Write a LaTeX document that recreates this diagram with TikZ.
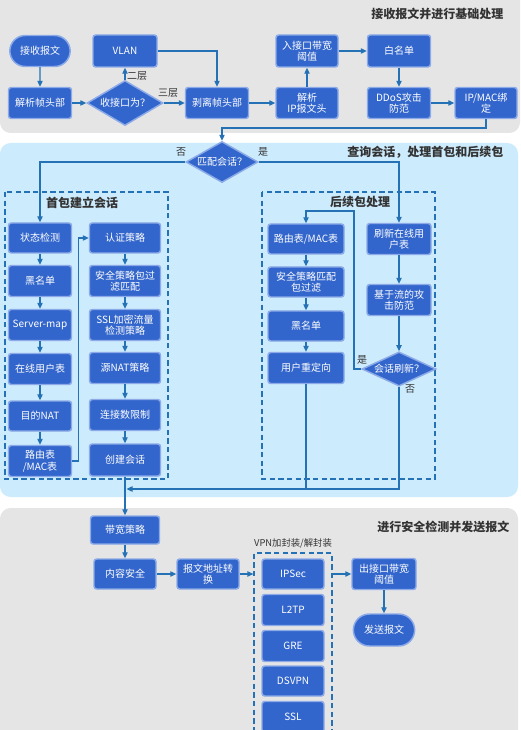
\documentclass[tikz,border=0pt]{standalone}
\usepackage{fontspec}
\setmainfont{Noto Sans CJK SC}
\usetikzlibrary{arrows.meta,shapes.geometric,shapes.misc}
\definecolor{boxfill}{RGB}{51,102,204}
\definecolor{boxedge}{RGB}{140,170,232}
\definecolor{lnc}{RGB}{36,113,181}
\definecolor{grayp}{RGB}{229,229,229}
\definecolor{bluep}{RGB}{204,235,252}
\definecolor{lbl}{RGB}{51,51,51}
\begin{document}
\begin{tikzpicture}[x=0.75pt,y=-0.75pt,
  sz/.style 2 args={minimum width=#1*0.75pt, minimum height=#2*0.75pt},
  bx/.style={rectangle, rounded corners=2pt, fill=boxfill, draw=boxedge, line width=1.1pt, text=white, font=\fontsize{7.5}{8.6}\selectfont, align=center, inner sep=1pt},
  term/.style={rounded rectangle, fill=boxfill, draw=boxedge, line width=1.1pt, text=white, font=\fontsize{7.5}{8.6}\selectfont, align=center, inner sep=1pt},
  dia/.style={diamond, fill=boxfill, draw=boxedge, line width=1.1pt, text=white, font=\fontsize{7.5}{8.6}\selectfont, inner sep=0pt, aspect=2},
  ln/.style={draw=lnc, line width=0.9pt},
  arr/.style={draw=lnc, line width=0.9pt, -{Triangle[length=4.5pt,width=4pt]}},
  dbox/.style={draw=lnc, line width=0.9pt, dash pattern=on 4pt off 2.5pt},
  ttl/.style={font=\fontsize{9}{10}\selectfont\bfseries, text=lbl},
  lab/.style={font=\fontsize{7.5}{9}\selectfont, text=lbl},
]
\useasboundingbox (0,0) rectangle (520,730);
% panels
\fill[grayp, rounded corners=8pt] (0,-20) rectangle (520,133);
\fill[bluep, rounded corners=8pt] (0,143) rectangle (518,497);
\fill[grayp, rounded corners=8pt] (0,508) rectangle (518,750);

% titles
\node[ttl, anchor=east] (t1) at (508,14) {接收报文并进行基础处理};
\node[ttl, anchor=east] (t2) at (508,152) {查询会话，处理首包和后续包};
\node[ttl, anchor=east] (t3) at (514,527) {进行安全检测并发送报文};

% top section
\node[term, sz={63}{31}] (rcv) at (40,51) {接收报文};
\node[bx, sz={63}{31}] (parse) at (40,103) {解析帧头部};
\node[dia, sz={76}{45}] (ifd) at (125,103) {收接口为？};
\node[bx, sz={64}{32}] (vlan) at (125,51) {VLAN};
\node[bx, sz={63}{31}] (strip) at (217,103) {剥离帧头部};
\node[bx, sz={62}{31}] (ipp) at (307,103) {解析\\IP报文头};
\node[bx, sz={62}{32}] (inbw) at (307,51) {入接口带宽\\阈值};
\node[bx, sz={63}{32}] (white) at (399,51) {白名单};
\node[bx, sz={63}{31}] (ddos) at (399,103) {DDoS攻击\\防范};
\node[bx, sz={62}{31}] (ipmac) at (486,103) {IP/MAC绑\\定};
\node[lab] (l2) at (137,76) {二层};
\node[lab] (l3) at (168,93) {三层};

\draw[arr] (rcv) -- (parse);
\draw[arr] (parse) -- (ifd);
\draw[arr] (ifd) -- (vlan);
\draw[arr] (ifd) -- (strip);
\draw[arr] (vlan.east) -| (strip.north);
\draw[arr] (strip) -- (ipp);
\draw[arr] (ipp) -- (inbw);
\draw[arr] (inbw) -- (white);
\draw[arr] (white) -- (ddos);
\draw[arr] (ddos) -- (ipmac);

% middle section
\node[dia, sz={72}{41}] (match) at (222,162) {匹配会话？};
\coordinate (k1) at (222,128);
\draw[arr] (ipmac.south) |- (k1) -- (match.north);
\node[lab] (no1) at (181,152) {否};
\node[lab] (yes1) at (263,152) {是};

\draw[dbox] (5,192) rectangle (168,479);
\draw[dbox] (262,192) rectangle (435,479);
\node[ttl] (fpt) at (82,203) {首包建立会话};
\node[ttl] (spt) at (360,202) {后续包处理};

\node[bx, sz={63}{30}] (st1) at (40,238) {状态检测};
\node[bx, sz={63}{31}] (bl1) at (40,281) {黑名单};
\node[bx, sz={63}{31}] (sm) at (40,325) {Server-map};
\node[bx, sz={63}{31}] (ou) at (40,369) {在线用户表};
\node[bx, sz={63}{30}] (dnat) at (40,416) {目的NAT};
\node[bx, sz={63}{31}] (rt1) at (40,461) {路由表\\/MAC表};

\node[bx, sz={71}{30}] (auth) at (125,238) {认证策略};
\node[bx, sz={71}{31}] (spf) at (125,281) {安全策略包过\\滤匹配};
\node[bx, sz={71}{31}] (ssl) at (125,325) {SSL加密流量\\检测策略};
\node[bx, sz={71}{31}] (snat) at (125,368) {源NAT策略};
\node[bx, sz={71}{31}] (conn) at (125,415) {连接数限制};
\node[bx, sz={71}{32}] (sess) at (125,460) {创建会话};

\draw[arr] (match.west) -| (st1.north);
\draw[arr] (st1) -- (bl1);
\draw[arr] (bl1) -- (sm);
\draw[arr] (sm) -- (ou);
\draw[arr] (ou) -- (dnat);
\draw[arr] (dnat) -- (rt1);
\draw[arr] (rt1.east) -- ++(6,0) |- (auth.west);
\draw[arr] (auth) -- (spf);
\draw[arr] (spf) -- (ssl);
\draw[arr] (ssl) -- (snat);
\draw[arr] (snat) -- (conn);
\draw[arr] (conn) -- (sess);

\node[bx, sz={76}{30}] (rt2) at (306,239) {路由表/MAC表};
\node[bx, sz={76}{30}] (sp2) at (306,282) {安全策略匹配\\包过滤};
\node[bx, sz={76}{30}] (bl2) at (306,326) {黑名单};
\node[bx, sz={76}{31}] (ur) at (306,368) {用户重定向};

\node[bx, sz={64}{31}] (rf) at (399,239) {刷新在线用\\户表};
\node[bx, sz={64}{31}] (flow) at (399,300) {基于流的攻\\击防范};
\node[dia, sz={74}{31}] (chk) at (399,369) {会话刷新？};
\node[lab] (yes2) at (362,360) {是};
\node[lab] (no2) at (410,389) {否};

\draw[arr] (match.east) -| (rf.north);
\draw[arr] (rt2) -- (sp2);
\draw[arr] (sp2) -- (bl2);
\draw[arr] (bl2) -- (ur);
\draw[arr] (rf) -- (flow);
\draw[arr] (flow) -- (chk);
\coordinate (k2) at (354,211);
\draw[arr] (chk.west) -| (k2) -| (rt2.north);
\coordinate (k3) at (126.5,489);
\draw[arr] (chk.south) |- (k3);
\draw[ln] (ur.south) -- (ur.south |- k3);

% bottom section
\node[bx, sz={69}{28}] (bw) at (125,530) {带宽策略};
\node[bx, sz={62}{30}] (cs) at (125,574) {内容安全};
\node[bx, sz={62}{30}] (nat) at (208,574) {报文地址转\\换};
\draw[arr] (sess) -- (bw);
\draw[arr] (bw) -- (cs);
\draw[arr] (cs) -- (nat);

\node[dbox, rectangle, sz={78}{190}, inner sep=0pt] (vpn) at (293,648) {};
\node[font=\fontsize{7}{8}\selectfont, text=lbl] (vpnl) at (293,543) {VPN加封装/解封装};
\node[bx, sz={62}{30}] (ips) at (293,574) {IPSec};
\node[bx, sz={62}{31}] (l2tp) at (293,610) {L2TP};
\node[bx, sz={62}{31}] (gre) at (293,646) {GRE};
\node[bx, sz={62}{30}] (dsv) at (293,681) {DSVPN};
\node[bx, sz={62}{31}] (sslv) at (293,717) {SSL};
\draw[arr] (nat.east) -- (vpn.west |- nat.east);

\node[bx, sz={64}{31}] (out) at (384,574) {出接口带宽\\阈值};
\node[term, sz={64}{32}] (send) at (384,630) {发送报文};
\draw[arr] (vpn.east |- out.west) -- (out.west);
\draw[arr] (out) -- (send);
\end{tikzpicture}
\end{document}
